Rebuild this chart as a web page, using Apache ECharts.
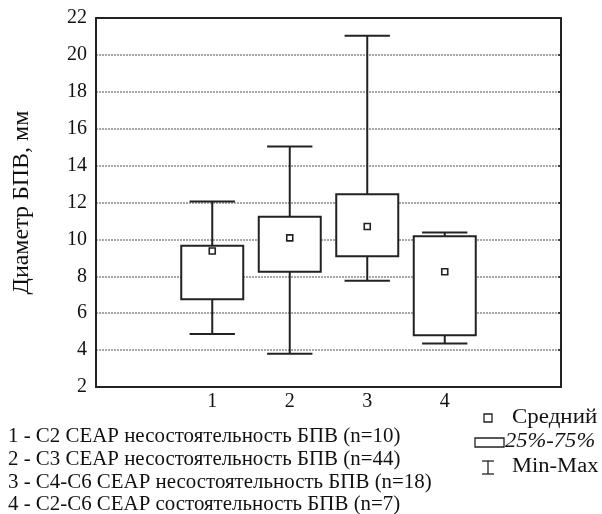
<!DOCTYPE html>
<html>
<head>
<meta charset="utf-8">
<script src="https://cdn.jsdelivr.net/npm/echarts@6/dist/echarts.min.js"></script>
<style>
  html, body { margin: 0; padding: 0; background: #fff; }
  #chart { width: 602px; height: 514px; }
</style>
</head>
<body>
<div id="chart"></div>
<script>
// категории по оси X (крайние пустые — поля)
const categories = ['', '1', '2', '3', '4', '']
const groupIndex = [1, 2, 3, 4]
const minValues = [4.87, 3.8, 7.76, 4.36]
const q1Values = [6.76, 8.24, 9.08, 4.8]
const q3Values = [9.65, 11.23, 12.45, 10.17]
const maxValues = [12.05, 15.04, 21.04, 10.37]
const meanValues = [9.37, 10.08, 10.7, 8.25]
const yTicks = { min: 2, max: 22, step: 2 }
const captionLines = [
  '1 - C2 CEAP несостоятельность БПВ (n=10)',
  '2 - C3 CEAP несостоятельность БПВ (n=44)',
  '3 - C4-C6 CEAP несостоятельность БПВ (n=18)',
  '4 - C2-C6 CEAP состоятельность БПВ (n=7)'
]
const legendLabels = ['Средний', '25%-75%', 'Min-Max']

const FONT = '"Liberation Serif", "Times New Roman", serif'
const INK = '#222'

const seriesData = groupIndex.map((g, i) => [g, minValues[i], q1Values[i], q3Values[i], maxValues[i], meanValues[i]])

const renderBox = (params, api) => {
  const x = api.value(0)
  const band = api.size([1, 0])[0]
  const boxW = band * 0.8
  const capW = band * 0.585
  const pMin = api.coord([x, api.value(1)])
  const pQ1 = api.coord([x, api.value(2)])
  const pQ3 = api.coord([x, api.value(3)])
  const pMax = api.coord([x, api.value(4)])
  const pMean = api.coord([x, api.value(5)])
  const cx = pMin[0]
  const ls = { stroke: INK, lineWidth: 2 }
  return {
    type: 'group',
    children: [
      { type: 'line', shape: { x1: cx, y1: pMax[1], x2: cx, y2: pQ3[1] }, style: ls },
      { type: 'line', shape: { x1: cx, y1: pQ1[1], x2: cx, y2: pMin[1] }, style: ls },
      { type: 'line', shape: { x1: cx - capW / 2, y1: pMax[1], x2: cx + capW / 2, y2: pMax[1] }, style: ls },
      { type: 'line', shape: { x1: cx - capW / 2, y1: pMin[1], x2: cx + capW / 2, y2: pMin[1] }, style: ls },
      { type: 'rect', shape: { x: cx - boxW / 2, y: pQ3[1], width: boxW, height: pQ1[1] - pQ3[1] }, style: { fill: '#fff', stroke: INK, lineWidth: 2 } },
      { type: 'rect', shape: { x: cx - 3, y: pMean[1] - 3, width: 6, height: 6 }, style: { fill: '#fff', stroke: INK, lineWidth: 1.6 } }
    ]
  }
}

const chart = echarts.init(document.getElementById('chart'), null, { renderer: 'canvas' })

const textStyle = (t, italic) => ({ text: t, fill: '#111', font: (italic ? 'italic ' : '') + '20.5px ' + FONT, verticalAlign: 'middle' })
const lw = 1.3

chart.setOption({
  animation: false,
  backgroundColor: '#fff',
  grid: { left: 96, top: 18, right: 41, bottom: 127 },
  xAxis: [
    {
      type: 'category', data: categories, boundaryGap: true,
      axisLine: { lineStyle: { color: INK, width: 2 } },
      axisTick: { inside: true, length: 3, alignWithLabel: true, lineStyle: { color: INK, width: 1.5 } },
      axisLabel: { color: '#111', fontFamily: FONT, fontSize: 20, margin: 5 },
      splitLine: { show: false }
    },
    {
      type: 'category', data: categories, boundaryGap: true, position: 'top',
      axisLine: { lineStyle: { color: INK, width: 2 } },
      axisTick: { inside: true, length: 3, alignWithLabel: true, lineStyle: { color: INK, width: 1.5 } },
      axisLabel: { show: false }
    }
  ],
  yAxis: [
    {
      type: 'value', min: yTicks.min, max: yTicks.max, interval: yTicks.step,
      name: 'Диаметр БПВ, мм', nameLocation: 'middle', nameGap: 62,
      nameTextStyle: { color: '#111', fontFamily: FONT, fontSize: 24 },
      axisLine: { show: true, lineStyle: { color: INK, width: 2 } },
      axisTick: { show: false },
      axisLabel: { color: '#111', fontFamily: FONT, fontSize: 20, margin: 9 },
      splitLine: { show: true, lineStyle: { color: '#8a8a8a', type: [2, 1], width: 1.5 } }
    },
    {
      type: 'value', min: yTicks.min, max: yTicks.max, interval: yTicks.step, position: 'right',
      axisLine: { show: true, lineStyle: { color: INK, width: 2 } },
      axisTick: { show: true, inside: true, length: 3, lineStyle: { color: INK, width: 1.5 } },
      axisLabel: { show: false },
      splitLine: { show: false }
    }
  ],
  series: [{
    type: 'custom',
    xAxisIndex: 0,
    yAxisIndex: 0,
    renderItem: renderBox,
    encode: { x: 0, y: [1, 2, 3, 4, 5] },
    data: seriesData,
    z: 5
  }],
  graphic: [
    ...captionLines.map((t, i) => ({
      type: 'text', x: 8, y: 437 + i * 22.7, scaleX: 1.02, style: textStyle(t)
    })),
    // легенда
    { type: 'rect', shape: { x: 484, y: 414, width: 8, height: 8 }, style: { fill: '#fff', stroke: INK, lineWidth: lw } },
    { type: 'text', x: 512, y: 417.5, scaleX: 1.12, style: textStyle(legendLabels[0]) },
    { type: 'rect', shape: { x: 475, y: 438, width: 29, height: 9 }, style: { fill: '#fff', stroke: INK, lineWidth: lw } },
    { type: 'text', x: 505, y: 442, scaleX: 1.1, style: textStyle(legendLabels[1], true) },
    { type: 'line', shape: { x1: 482, y1: 461, x2: 494, y2: 461 }, style: { stroke: INK, lineWidth: lw } },
    { type: 'line', shape: { x1: 488, y1: 461, x2: 488, y2: 474 }, style: { stroke: INK, lineWidth: lw } },
    { type: 'line', shape: { x1: 482, y1: 474, x2: 494, y2: 474 }, style: { stroke: INK, lineWidth: lw } },
    { type: 'text', x: 512, y: 467, scaleX: 1.1, style: textStyle(legendLabels[2]) }
  ]
})
</script>
</body>
</html>
